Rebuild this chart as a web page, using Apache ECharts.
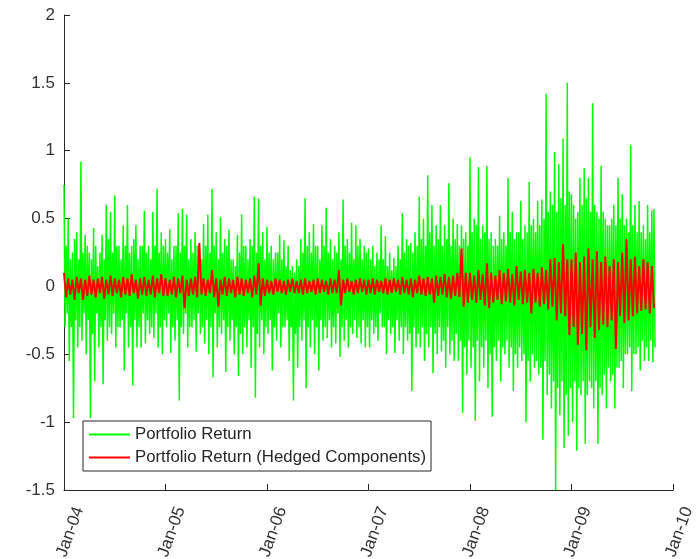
<!DOCTYPE html>
<html>
<head>
<meta charset="utf-8">
<script src="https://cdn.jsdelivr.net/npm/echarts@6/dist/echarts.min.js"></script>
<style>
  html, body { margin: 0; padding: 0; background: #fff; }
  #chart { width: 700px; height: 559px; }
</style>
</head>
<body>
<div id="chart"></div>
<script>
// tick labels on the date axis (one per January)
var yearLabels = ['Jan-04', 'Jan-05', 'Jan-06', 'Jan-07', 'Jan-08', 'Jan-09', 'Jan-10'];
var firstYear = 2004;
var greenPerYear = 96; // samples spread evenly through each year
var redPerYear = 48;

// Portfolio Return (up / down swings)
var green2004 = [0.75,-0.3, 0.3,-0.2, 0.5,-0.55, 0.2,-0.3, 0.25,-0.97, 0.35,-0.25, 0.4,-0.45, 0.2,-0.3,
  0.92,-0.4, 0.25,-0.2, 0.38,-0.5, 0.3,-0.25, 0.25,-0.97, 0.2,-0.35, 0.43,-0.7, 0.3,-0.2,
  0.15,-0.45, 0.25,-0.3, 0.38,-0.72, 0.2,-0.25, 0.6,-0.4, 0.35,-0.3, 0.55,-0.35, 0.25,-0.2,
  0.67,-0.45, 0.3,-0.3, 0.3,-0.3, 0.2,-0.25, 0.45,-0.62, 0.3,-0.2, 0.6,-0.45, 0.25,-0.3,
  0.3,-0.73, 0.35,-0.25, 0.45,-0.45, 0.2,-0.3, 0.3,-0.45, 0.3,-0.2, 0.56,-0.42, 0.25,-0.25,
  0.3,-0.35, 0.2,-0.3, 0.55,-0.38, 0.3,-0.2, 0.72,-0.45, 0.25,-0.3, 0.4,-0.5, 0.3,-0.25];
var green2005 = [0.35,-0.3, 0.25,-0.2, 0.42,-0.49, 0.2,-0.3, 0.3,-0.4, 0.3,-0.25, 0.54,-0.84, 0.25,-0.3,
  0.57,-0.35, 0.3,-0.2, 0.53,-0.45, 0.2,-0.3, 0.35,-0.3, 0.25,-0.25, 0.4,-0.48, 0.3,-0.2,
  0.3,-0.35, 0.2,-0.3, 0.46,-0.42, 0.3,-0.25, 0.53,-0.5, 0.25,-0.3, 0.72,-0.67, 0.3,-0.2,
  0.4,-0.45, 0.2,-0.3, 0.51,-0.35, 0.25,-0.25, 0.35,-0.63, 0.3,-0.3, 0.42,-0.4, 0.2,-0.25,
  0.2,-0.5, 0.15,-0.3, 0.38,-0.66, 0.25,-0.35, 0.53,-0.5, 0.3,-0.3, 0.3,-0.45, 0.2,-0.25,
  0.35,-0.6, 0.3,-0.3, 0.66,-0.82, 0.25,-0.35, 0.65,-0.45, 0.3,-0.25, 0.4,-0.5, 0.2,-0.3];
var green2006 = [0.44,-0.35, 0.25,-0.25, 0.3,-0.62, 0.2,-0.3, 0.25,-0.4, 0.25,-0.2, 0.38,-0.45, 0.2,-0.3,
  0.34,-0.3, 0.15,-0.25, 0.3,-0.55, 0.12,-0.3, 0.15,-0.84, 0.1,-0.35, 0.2,-0.6, 0.15,-0.3,
  0.35,-0.4, 0.25,-0.25, 0.65,-0.75, 0.3,-0.3, 0.4,-0.45, 0.25,-0.25, 0.46,-0.5, 0.3,-0.3,
  0.3,-0.62, 0.2,-0.25, 0.45,-0.4, 0.3,-0.3, 0.58,-0.38, 0.25,-0.25, 0.35,-0.45, 0.2,-0.3,
  0.3,-0.42, 0.25,-0.2, 0.4,-0.52, 0.2,-0.3, 0.64,-0.4, 0.3,-0.25, 0.35,-0.45, 0.25,-0.3,
  0.47,-0.35, 0.2,-0.25, 0.45,-0.38, 0.3,-0.3, 0.35,-0.42, 0.2,-0.25, 0.3,-0.45, 0.25,-0.3];
var green2007 = [0.28,-0.45, 0.2,-0.25, 0.3,-0.35, 0.15,-0.3, 0.25,-0.4, 0.2,-0.2, 0.45,-0.3, 0.2,-0.3,
  0.37,-0.5, 0.15,-0.25, 0.25,-0.35, 0.12,-0.3, 0.21,-0.49, 0.15,-0.25, 0.3,-0.4, 0.2,-0.3,
  0.54,-0.5, 0.25,-0.3, 0.35,-0.4, 0.3,-0.35, 0.32,-0.77, 0.25,-0.3, 0.4,-0.45, 0.3,-0.35,
  0.66,-0.45, 0.35,-0.3, 0.5,-0.55, 0.3,-0.35, 0.82,-0.45, 0.4,-0.3, 0.6,-0.64, 0.3,-0.35,
  0.45,-0.5, 0.35,-0.3, 0.6,-0.48, 0.3,-0.4, 0.45,-0.6, 0.35,-0.3, 0.76,-0.5, 0.3,-0.4,
  0.5,-0.55, 0.35,-0.35, 0.46,-0.55, 0.3,-0.4, 0.45,-0.93, 0.35,-0.45, 0.4,-0.65, 0.3,-0.4];
var green2008 = [0.95,-0.6, 0.4,-0.45, 0.5,-0.99, 0.45,-0.4, 0.88,-0.7, 0.35,-0.45, 0.45,-0.6, 0.4,-0.4,
  0.89,-0.75, 0.35,-0.5, 0.4,-0.96, 0.3,-0.45, 0.35,-0.55, 0.3,-0.4, 0.52,-0.7, 0.35,-0.45,
  0.4,-0.5, 0.3,-0.4, 0.8,-0.6, 0.4,-0.45, 0.55,-0.77, 0.35,-0.5, 0.4,-0.6, 0.4,-0.45,
  0.63,-0.55, 0.35,-0.5, 0.45,-1.0, 0.4,-0.55, 0.77,-0.7, 0.45,-0.5, 0.5,-0.6, 0.4,-0.55,
  0.63,-0.65, 0.45,-0.6, 0.64,-1.13, 0.5,-0.55, 1.42,-0.8, 0.55,-0.65, 0.7,-0.9, 0.6,-0.7,
  0.99,-1.5, 0.55,-0.75, 0.9,-0.95, 0.65,-0.7, 1.09,-1.19, 0.6,-0.8, 1.5,-1.1, 0.7,-0.75];
var green2009 = [0.68,-1.0, 0.6,-0.7, 0.5,-1.21, 0.55,-0.75, 0.8,-0.8, 0.6,-0.7, 0.87,-1.16, 0.65,-0.8,
  0.8,-0.7, 0.55,-0.75, 1.35,-0.9, 0.6,-0.7, 0.55,-1.16, 0.5,-0.75, 0.89,-0.8, 0.55,-0.65,
  0.5,-0.9, 0.45,-0.6, 0.45,-0.7, 0.5,-0.65, 0.6,-0.9, 0.45,-0.6, 0.8,-0.6, 0.5,-0.55,
  0.68,-0.75, 0.45,-0.5, 0.5,-0.5, 0.4,-0.45, 1.04,-0.77, 0.45,-0.5, 0.6,-0.5, 0.4,-0.45,
  0.63,-0.62, 0.4,-0.4, 0.45,-0.55, 0.35,-0.45, 0.6,-0.55, 0.4,-0.4, 0.56,-0.56, 0.57,-0.45];

// Portfolio Return (Hedged Components)
var red2004 = [0.1,-0.08, 0.06,-0.06, 0.05,-0.1, 0.07,-0.05, 0.06,-0.1, 0.05,-0.07, 0.08,-0.06, 0.05,-0.08,
  0.06,-0.05, 0.07,-0.09, 0.05,-0.06, 0.08,-0.07, 0.06,-0.05, 0.05,-0.08, 0.07,-0.06, 0.06,-0.07,
  0.09,-0.05, 0.05,-0.09, 0.06,-0.06, 0.07,-0.07, 0.05,-0.06, 0.08,-0.08, 0.06,-0.05, 0.09,-0.07];
var red2005 = [0.06,-0.07, 0.05,-0.06, 0.07,-0.08, 0.06,-0.05, 0.08,-0.16, 0.05,-0.07, 0.06,-0.06, 0.07,-0.08,
  0.32,-0.06, 0.06,-0.07, 0.05,-0.05, 0.12,-0.08, 0.06,-0.15, 0.05,-0.06, 0.07,-0.07, 0.06,-0.05,
  0.05,-0.08, 0.07,-0.06, 0.06,-0.07, 0.05,-0.05, 0.06,-0.08, 0.08,-0.06, 0.17,-0.14, 0.06,-0.07];
var red2006 = [0.05,-0.05, 0.04,-0.06, 0.06,-0.04, 0.05,-0.05, 0.04,-0.06, 0.05,-0.04, 0.06,-0.05, 0.04,-0.05,
  0.05,-0.06, 0.06,-0.05, 0.04,-0.04, 0.05,-0.06, 0.06,-0.05, 0.05,-0.04, 0.04,-0.06, 0.06,-0.05,
  0.05,-0.05, 0.12,-0.14, 0.05,-0.05, 0.06,-0.04, 0.04,-0.06, 0.05,-0.05, 0.06,-0.04, 0.05,-0.06];
var red2007 = [0.05,-0.05, 0.06,-0.06, 0.05,-0.04, 0.04,-0.05, 0.06,-0.06, 0.05,-0.05, 0.06,-0.04, 0.05,-0.06,
  0.07,-0.05, 0.05,-0.06, 0.06,-0.08, 0.05,-0.05, 0.08,-0.06, 0.06,-0.07, 0.07,-0.06, 0.06,-0.12,
  0.08,-0.07, 0.07,-0.06, 0.09,-0.08, 0.07,-0.09, 0.08,-0.07, 0.1,-0.08, 0.28,-0.15, 0.1,-0.12];
var red2008 = [0.1,-0.1, 0.08,-0.12, 0.12,-0.1, 0.09,-0.14, 0.17,-0.16, 0.1,-0.12, 0.08,-0.1, 0.12,-0.13,
  0.1,-0.11, 0.13,-0.12, 0.09,-0.14, 0.15,-0.1, 0.11,-0.13, 0.12,-0.12, 0.1,-0.2, 0.13,-0.12,
  0.1,-0.15, 0.14,-0.13, 0.12,-0.17, 0.2,-0.15, 0.21,-0.25, 0.18,-0.2, 0.31,-0.22, 0.2,-0.36];
var red2009 = [0.2,-0.3, 0.25,-0.43, 0.18,-0.35, 0.22,-0.47, 0.28,-0.3, 0.2,-0.38, 0.26,-0.32, 0.18,-0.28,
  0.22,-0.3, 0.15,-0.25, 0.2,-0.46, 0.18,-0.22, 0.25,-0.27, 0.35,-0.25, 0.2,-0.22, 0.22,-0.2,
  0.15,-0.18, 0.2,-0.17, 0.18,-0.2, 0.15,-0.16];

var greenYears = [green2004, green2005, green2006, green2007, green2008, green2009];
var redYears = [red2004, red2005, red2006, red2007, red2008, red2009];

// pair each value with its position in time (year + fraction of year)
function toSeries(years, perYear) {
    var out = [];
    years.forEach(function(vals, k) {
        vals.forEach(function(v, j) {
            out.push([firstYear + k + j / perYear, v]);
        });
    });
    return out;
}

var textColor = '#333333';
var axisColor = '#262626';

var myChart = echarts.init(document.getElementById('chart'));
var option = {
    animation: false,
    backgroundColor: '#ffffff',
    grid: { left: 64, right: 27, top: 15, bottom: 69, outerBoundsMode: 'none', containLabel: false },
    legend: {
        left: 83,
        top: 421,
        orient: 'vertical',
        backgroundColor: '#ffffff',
        borderColor: axisColor,
        borderWidth: 1,
        padding: [5, 5, 5, 6],
        itemGap: 6,
        itemWidth: 41,
        itemHeight: 2,
        icon: 'rect',
        textStyle: { fontFamily: 'Liberation Sans', fontSize: 16.8, color: '#262626' },
        data: ['Portfolio Return', 'Portfolio Return (Hedged Components)']
    },
    xAxis: {
        type: 'value',
        min: 2004,
        max: 2010,
        interval: 1,
        splitLine: { show: false },
        axisLine: { onZero: false, lineStyle: { color: axisColor, width: 1 } },
        axisTick: { inside: true, length: 6, lineStyle: { color: axisColor } },
        axisLabel: {
            rotate: 70,
            margin: 12,
            verticalAlign: 'top',
            lineHeight: 32,
            fontFamily: 'Liberation Sans',
            fontSize: 17,
            color: textColor,
            formatter: function(v) {
                return yearLabels[Math.round(v - firstYear)];
            }
        }
    },
    yAxis: {
        type: 'value',
        min: -1.5,
        max: 2,
        interval: 0.5,
        splitLine: { show: false },
        axisLine: { show: true, lineStyle: { color: axisColor, width: 1 } },
        axisTick: { show: true, inside: true, length: 6, lineStyle: { color: axisColor } },
        axisLabel: {
            margin: 9,
            fontFamily: 'Liberation Sans',
            fontSize: 17,
            color: textColor
        }
    },
    series: [
        {
            name: 'Portfolio Return',
            type: 'line',
            showSymbol: false,
            color: '#00ff00',
            lineStyle: { width: 1.5, color: '#00ff00' },
            data: toSeries(greenYears, greenPerYear)
        },
        {
            name: 'Portfolio Return (Hedged Components)',
            type: 'line',
            showSymbol: false,
            color: '#ff0000',
            lineStyle: { width: 2, color: '#ff0000' },
            data: toSeries(redYears, redPerYear)
        }
    ]
};
myChart.setOption(option);
</script>
</body>
</html>
